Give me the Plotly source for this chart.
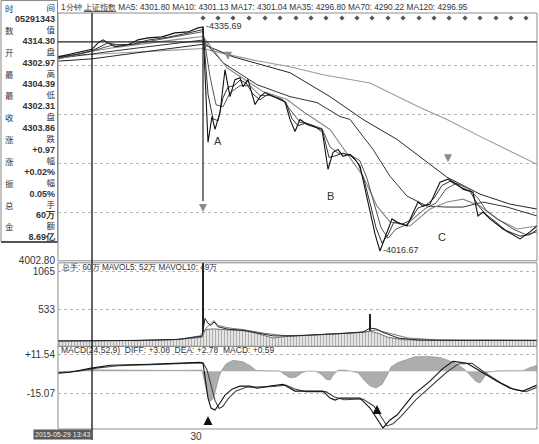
import plotly.graph_objects as go

# ---------------- data (minute index, value) ----------------
close_x = [0, 10, 24, 34, 40, 45, 50, 57, 70, 80, 90, 104, 117, 130, 140, 145,
           150, 154, 157, 162, 167, 172, 177, 182, 185, 190, 197, 202, 207, 217, 222, 227,
           232, 237, 242, 249, 257, 264, 270, 275, 280, 285, 292, 297, 302, 307, 312, 317,
           322, 334, 339, 349, 360, 365, 372, 382, 390, 399, 405, 415, 420, 425, 432, 445,
           462, 472, 479]
close_y = [4293.0, 4296.0, 4300.3, 4303.86, 4313.0, 4317.3, 4313.0, 4307.4, 4310.2, 4317.3, 4320.1, 4321.5, 4327.2, 4328.6, 4334.3, 4335.69,
           4171.4, 4208.2, 4189.8, 4213.9, 4274.8, 4236.5, 4260.6, 4263.4, 4250.7, 4260.6, 4225.2, 4236.5, 4242.2, 4235.1, 4232.3, 4229.4,
           4204.0, 4186.9, 4204.0, 4196.9, 4192.6, 4189.8, 4133.1, 4157.2, 4161.4, 4151.5, 4154.4, 4147.3, 4137.4, 4104.8, 4069.4, 4041.0,
           4016.67, 4062.4, 4058.1, 4052.4, 4086.4, 4080.7, 4083.5, 4114.7, 4119.0, 4111.9, 4104.8, 4100.5, 4066.6, 4072.2, 4062.4, 4048.1,
           4034.0, 4043.9, 4052.4]

crash_x = [145, 145]
crash_y = [4335.69, 4087.8]

ma5_x = [0, 20, 34, 42, 50, 60, 75, 90, 110, 130, 145, 150, 155, 160, 165, 170, 176, 182, 188, 195,
         202, 210, 220, 228, 234, 240, 248, 257, 265, 271, 277, 285, 293, 300, 306, 312, 318, 324, 330, 336,
         344, 352, 360, 368, 376, 384, 392, 402, 412, 420, 427, 436, 448, 462, 472, 479]
ma5_y = [4292, 4297, 4301.8, 4308, 4313, 4310, 4311, 4317, 4321, 4327, 4332, 4240, 4205, 4202, 4235, 4250, 4252, 4260, 4256, 4240,
         4232, 4240, 4234, 4228, 4205, 4195, 4199, 4194, 4185, 4150, 4152, 4156, 4152, 4142, 4118, 4085, 4050, 4028, 4040, 4058,
         4055, 4060, 4078, 4082, 4092, 4110, 4116, 4108, 4102, 4082, 4070, 4060, 4046, 4038, 4040, 4047]

ma10_x = [0, 25, 34, 45, 55, 75, 95, 115, 135, 145, 152, 158, 165, 172, 182, 192, 202, 212, 224, 234,
          242, 252, 264, 272, 280, 292, 302, 309, 316, 323, 330, 338, 348, 358, 368, 378, 388, 398, 410, 420,
          428, 440, 455, 468, 479]
ma10_y = [4291, 4298, 4301.13, 4306, 4310, 4311, 4316, 4321, 4326, 4329, 4265, 4225, 4222, 4242, 4252, 4252, 4238, 4238, 4233, 4215,
          4200, 4197, 4191, 4165, 4156, 4154, 4145, 4120, 4085, 4050, 4035, 4048, 4054, 4066, 4078, 4085, 4105, 4113, 4106, 4092,
          4075, 4062, 4048, 4040, 4044]

ma17_x = [0, 34, 60, 90, 120, 145, 169, 205, 229, 245, 272, 305, 319, 332, 352, 372, 389, 405, 422, 439, 459, 479]
ma17_y = [4290, 4301.04, 4307, 4313, 4318, 4322, 4277.6, 4243.6, 4232.3, 4215.3, 4189.8, 4123.2, 4080.7, 4058.1, 4052.4, 4076.5,
          4086.4, 4090.6, 4080.7, 4062.4, 4048.1, 4052.4]

ma35_x = [0, 34, 70, 110, 145, 165, 199, 232, 259, 282, 292, 315, 332, 349, 369, 389, 405, 425, 449, 479]
ma35_y = [4291, 4296.8, 4304, 4311, 4317, 4284.7, 4253.5, 4236.5, 4228.0, 4208.2, 4204.0, 4161.4, 4123.2, 4094.9, 4080.7,
          4079.3, 4079.3, 4086.4, 4079.3, 4066.6]

ma70_x = [0, 34, 80, 120, 145, 175, 232, 272, 305, 339, 365, 389, 422, 452, 479]
ma70_y = [4287, 4290.22, 4299, 4306, 4311, 4293.2, 4270.5, 4236.5, 4204.0, 4175.6, 4147.3, 4121.8, 4097.7, 4083.5, 4076.5]

ma120_x = [0, 34, 80, 120, 145, 165, 199, 232, 265, 312, 362, 389, 422, 479]
ma120_y = [4294, 4296.95, 4300, 4303, 4305, 4298, 4287.5, 4279.0, 4267.7, 4256, 4221.0, 4204.0, 4179.9, 4140.2]

ref_price = 4314.30
peak_label = ("4335.69", 145, 4335.69)
low_label = ("4016.67", 322, 4016.67)

signal_top_x = [145, 160, 175, 191, 207, 222, 238, 253, 268, 284, 299, 314, 330, 345, 361, 376, 391, 407, 422, 438, 453, 468]
signal_top_y = [4348.4] * len(signal_top_x)
down_arrow_x = [170, 145, 390]
down_arrow_y = [4288.9, 4072.2, 4143.0]
wave_labels = ["A", "B", "C"]
wave_x = [160, 272, 384]
wave_y = [4172.8, 4094.9, 4036.8]

vol_x = [0, 20, 40, 60, 80, 100, 115, 125, 135, 142, 147, 155, 165, 175, 185, 195, 205, 215, 227, 240,
         255, 267, 280, 295, 305, 312, 320, 330, 345, 370, 400, 430, 460, 479]
vol_y = [75, 80, 78, 85, 82, 90, 95, 110, 135, 150, 240, 250, 240, 235, 225, 200, 160, 120, 140, 150,
         165, 170, 175, 195, 205, 215, 190, 130, 95, 88, 85, 88, 85, 85]
vol_spike_x = [145, 312]
vol_spike_y = [1300, 470]
mavol5_x = [0, 40, 80, 120, 140, 144, 147, 150, 153, 156, 160, 170, 185, 200, 215, 235, 260, 285, 305, 312,
            318, 325, 340, 360, 400, 479]
mavol5_y = [78, 80, 85, 100, 130, 145, 400, 330, 300, 350, 280, 245, 230, 190, 150, 150, 165, 185, 205, 260,
            250, 200, 120, 90, 86, 86]
mavol10_x = [0, 60, 120, 144, 148, 152, 156, 160, 170, 185, 205, 225, 250, 280, 305, 318, 330, 350, 380, 420, 479]
mavol10_y = [80, 82, 98, 130, 260, 320, 370, 300, 265, 240, 190, 155, 158, 180, 200, 235, 190, 120, 92, 87, 86]

diff_x = [0, 12, 32, 52, 92, 142, 145, 147, 150, 153, 157, 162, 167, 174, 182, 192, 199, 212, 225, 232,
          237, 245, 265, 272, 277, 282, 302, 312, 319, 325, 332, 339, 355, 372, 385, 395, 409, 422, 439, 452,
          465, 479]
diff_y = [-1.4, -0.7, 2.0, 4.1, 4.8, 6.1, 5.5, -4.8, -18.4, -25.2, -26.6, -21.8, -16.4, -12.3, -10.2, -10.2, -11.6, -10.2, -8.9, -11.6,
          -13.6, -13.6, -13.6, -18.4, -19.8, -18.4, -18.4, -25.2, -32.1, -38.9, -33.4, -30.0, -16.4, -6.8, 2.0, 6.8, 5.5, 0.0, -6.8, -11.6,
          -13.6, -9.5]
dea_x = [0, 20, 40, 60, 100, 145, 149, 153, 157, 161, 165, 170, 178, 188, 200, 215, 228, 236, 248, 268,
         276, 286, 305, 316, 323, 329, 335, 343, 358, 375, 388, 400, 414, 427, 443, 456, 468, 479]
dea_y = [-1.0, 0.0, 2.3, 3.8, 4.7, 5.8, 1.0, -10, -20, -25.5, -24, -19, -13.5, -11, -11, -10.5, -9.5, -12, -14, -14,
         -17.5, -19.5, -19, -24, -31, -37.5, -36, -31, -19.5, -9, -1, 5, 5.5, -1, -8, -12.5, -14, -11]
hist_x = [0, 15, 35, 60, 90, 120, 144, 146, 149, 152, 155, 158, 161, 164, 168, 175, 185, 193, 198, 210,
          222, 226, 232, 238, 244, 250, 258, 263, 268, 272, 276, 280, 286, 292, 300, 306, 312, 318, 324, 329,
          333, 340, 348, 357, 370, 382, 392, 400, 407, 413, 418, 422, 426, 430, 440, 455, 465, 472, 479]
hist_y = [-0.5, 0.2, 1.0, 0.8, 0.5, 0.6, 0.8, -5, -15, -20.5, -19, -12, -4, 1, 5, 7.5, 6.5, 3.5, 0.5, 0.3,
          0.2, -2, -4.5, -4, -1, 0.2, 0, -2, -5.5, -6, -2, 0.7, 0.8, 0.2, -1, -6, -10, -11.5, -9, -3,
          3, 6, 8, 10, 10.2, 9.5, 7, 4.5, 1, -3, -7, -8, -4, -0.5, 0.3, 0.2, 0.4, 2.5, 4]
up_arrow_x = [150, 319]
up_arrow_y = [-30.7, -23.2]

header_price = "1分钟 <u>上证指数</u> MA5: 4301.80 MA10: 4301.13 MA17: 4301.04 MA35: 4296.80 MA70: 4290.22 MA120: 4296.95"
header_vol = "总手: 60万 MAVOL5: 52万 MAVOL10: 49万"
header_macd = "MACD(24,52,9)  DIFF: +3.08  DEA: +2.78  MACD: +0.59"
info_labels = [("时", "间"), ("数", "值"), ("开", "盘"), ("最", "高"), ("最", "低"), ("收", "盘"),
               ("涨", "跌"), ("涨", "幅"), ("振", "幅"), ("总", "手"), ("金", "额")]
info_values = ["05291343", "4314.30", "4302.97", "4304.39", "4302.31", "4303.86",
               "+0.97", "+0.02%", "0.05%", "60万", "8.69亿"]
cursor_x = 34
cursor_label = "2015-05-29 13:43"
x_tick_vals = [138]
x_tick_text = ["30"]
price_grid = [4002.80, 4072.2, 4141.0, 4211.0, 4280.4]
price_grid_text = ["4002.80", "", "", "", ""]
vol_grid = [533, 1065]
macd_grid = [11.54, -15.07]
macd_grid_text = ["+11.54", "-15.07"]

# ---------------- geometry ----------------
W, H = 539, 444
ML, MR, MT, MB = 58, 2, 13, 13
PW, PH = W - ML - MR, H - MT - MB


def py(ypx):
    return (H - MB - ypx) / PH


def px(xpx):
    return (xpx - ML) / PW


FONT = "Liberation Sans, Arial, sans-serif"
CJK = "Noto Sans CJK SC, sans-serif"

fig = go.Figure()


def line(x, y, color, width=1.0, yaxis="y"):
    fig.add_trace(go.Scatter(x=x, y=y, mode="lines", yaxis=yaxis,
                             line=dict(color=color, width=width), hoverinfo="skip"))


# price pane
line(ma120_x, ma120_y, "#9a9a9a", 1.1)
line(ma70_x, ma70_y, "#262626", 1.0)
line(ma35_x, ma35_y, "#333333", 1.0)
line(ma17_x, ma17_y, "#8a8a8a", 1.1)
line(ma10_x, ma10_y, "#555555", 1.0)
line(ma5_x, ma5_y, "#333333", 1.0)
line(close_x, close_y, "#111111", 1.1)
line(crash_x, crash_y, "#222222", 1.2)
fig.add_trace(go.Scatter(x=signal_top_x, y=signal_top_y, mode="markers",
                         marker=dict(symbol="diamond", size=4, color="#555"), hoverinfo="skip"))
fig.add_trace(go.Scatter(x=down_arrow_x, y=down_arrow_y, mode="markers",
                         marker=dict(symbol="arrow-down", size=8, color="#8a8a8a"), hoverinfo="skip"))

# volume pane
fig.add_trace(go.Scatter(x=vol_x, y=vol_y, yaxis="y2", mode="lines", fill="tozeroy",
                         line=dict(color="#555", width=0.8),
                         fillpattern=dict(shape="|", size=3, solidity=0.35, fgcolor="#777", bgcolor="#e4e4e4"),
                         hoverinfo="skip"))
fig.add_trace(go.Bar(x=vol_spike_x, y=vol_spike_y, yaxis="y2", width=1.3,
                     marker=dict(color="#222", line=dict(width=0)), hoverinfo="skip"))
line(mavol10_x, mavol10_y, "#777", 1.0, "y2")
line(mavol5_x, mavol5_y, "#222", 1.0, "y2")

# macd pane
fig.add_trace(go.Scatter(x=hist_x, y=hist_y, yaxis="y3", mode="lines", fill="tozeroy",
                         line=dict(color="#888", width=0.6),
                         fillpattern=dict(shape="|", size=2, solidity=0.55, fgcolor="#666", bgcolor="#c8c8c8"),
                         hoverinfo="skip"))
line(dea_x, dea_y, "#444", 1.1, "y3")
line(diff_x, diff_y, "#111", 1.1, "y3")
fig.add_trace(go.Scatter(x=up_arrow_x, y=up_arrow_y, yaxis="y3", mode="markers",
                         marker=dict(symbol="arrow-up", size=9, color="#111"), hoverinfo="skip"))

# domains
price_dom = [py(262), 1.0]
vol_dom = [py(348), py(264)]
macd_dom = [0.0, py(348)]

grid = dict(showgrid=True, gridcolor="#b4b4b4", griddash="dot", gridwidth=1, zeroline=False,
            ticks="", showline=False, tickfont=dict(family=FONT, size=10, color="#333"),
            ticklabelstandoff=2)

fig.update_layout(
    width=W, height=H, margin=dict(l=ML, r=MR, t=MT, b=MB),
    paper_bgcolor="white", plot_bgcolor="white", showlegend=False, hovermode=False,
    xaxis=dict(domain=[0, 1], range=[0, 479], anchor="y3", showgrid=False, zeroline=False,
               tickvals=x_tick_vals, ticktext=x_tick_text, ticks="", showline=False,
               tickfont=dict(family=FONT, size=10, color="#333")),
    yaxis=dict(domain=price_dom, range=[4002.8, 4355.5], tickvals=price_grid, ticktext=price_grid_text, **grid),
    yaxis2=dict(domain=vol_dom, range=[0, 1193], tickvals=vol_grid, ticktext=[str(v) for v in vol_grid], **grid),
    yaxis3=dict(domain=macd_dom, range=[-39.6, 17.05], tickvals=macd_grid, ticktext=macd_grid_text, **grid),
    bargap=0,
)

shapes = []
for d in (price_dom, vol_dom, macd_dom):
    shapes.append(dict(type="rect", xref="paper", yref="paper", x0=0, x1=1, y0=d[0], y1=d[1],
                       line=dict(color="#8c8c8c", width=1), fillcolor="rgba(0,0,0,0)"))
shapes.append(dict(type="line", xref="paper", yref="y", x0=0, x1=1, y0=ref_price, y1=ref_price,
                   line=dict(color="#222", width=1.2)))
shapes.append(dict(type="line", xref="x", yref="paper", x0=cursor_x, x1=cursor_x, y0=py(442), y1=1.0,
                   line=dict(color="#111", width=1.3)))
shapes.append(dict(type="rect", xref="paper", yref="paper", x0=px(1), x1=px(57.5), y0=py(243), y1=py(0.5),
                   line=dict(color="#888", width=1), fillcolor="rgba(0,0,0,0)"))
shapes.append(dict(type="line", xref="paper", yref="paper", x0=px(1), x1=px(57.5), y0=py(243), y1=py(243),
                   line=dict(color="#555", width=2)))
fig.update_layout(shapes=shapes)

ann = []
ann.append(dict(xref="paper", yref="paper", x=px(59), y=py(7), xanchor="left", yanchor="middle",
                text=header_price, showarrow=False, font=dict(family=FONT, size=8.3, color="#333")))
ann.append(dict(xref="paper", yref="paper", x=px(59), y=py(269), xanchor="left", yanchor="middle",
                text=header_vol, showarrow=False, font=dict(family=FONT, size=8.2, color="#333")))
ann.append(dict(xref="paper", yref="paper", x=px(59), y=py(352), xanchor="left", yanchor="middle",
                text=header_macd, showarrow=False, font=dict(family=FONT, size=8.5, color="#333")))

# info panel: two columns, each a single multi-line text (line pitch = 1.3 * 8.4 px)
cj_span = "<span style='font-family:Noto Sans CJK SC;font-size:8.5px'>%s</span>"
num_span = "<span style='font-size:9px'><b>%s</b></span>"
left_lines, right_lines = [], []
for (a, b), v in zip(info_labels, info_values):
    left_lines += [cj_span % a, " "]
    right_lines += [cj_span % b, num_span % v]
ann.append(dict(xref="paper", yref="paper", x=px(4), y=py(1), xanchor="left", yanchor="top",
                text="<br>".join(left_lines), align="left", showarrow=False, borderpad=0,
                font=dict(family=FONT, size=8.4, color="#333")))
ann.append(dict(xref="paper", yref="paper", x=px(57), y=py(0), xanchor="right", yanchor="top",
                text="<br>".join(right_lines), align="right", showarrow=False, borderpad=0,
                font=dict(family=FONT, size=8.4, color="#333")))

for t, xx, yy in (peak_label, low_label):
    ann.append(dict(xref="x", yref="y", x=xx + 1, y=yy + 2, xanchor="left", yanchor="middle",
                    text="-" + t, showarrow=False, font=dict(family=FONT, size=9, color="#333")))
for t, xx, yy in zip(wave_labels, wave_x, wave_y):
    ann.append(dict(xref="x", yref="y", x=xx, y=yy, xanchor="center", yanchor="middle",
                    text=t, showarrow=False, font=dict(family=FONT, size=11, color="#333")))
ann.append(dict(xref="x", yref="paper", x=cursor_x, y=py(437), xanchor="right", yanchor="middle",
                text=cursor_label, showarrow=False, bgcolor="#5a5a5a", borderpad=1,
                font=dict(family=FONT, size=7, color="#eee")))
fig.update_layout(annotations=ann)

fig.write_html("out.html")
